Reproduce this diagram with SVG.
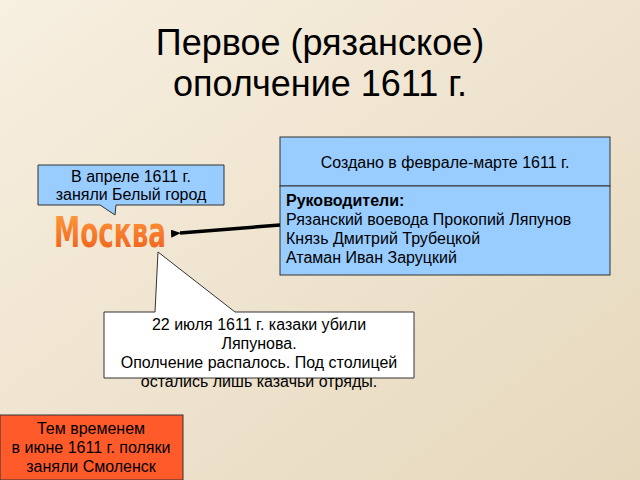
<svg xmlns="http://www.w3.org/2000/svg" width="640" height="480" viewBox="0 0 640 480">
<defs>
<linearGradient id="bg" x1="0" y1="0" x2="1" y2="1"><stop offset="0" stop-color="#f7efe0"/><stop offset="1" stop-color="#e6d8bd"/></linearGradient>
<linearGradient id="mo" x1="0" y1="0" x2="0" y2="1"><stop offset="0" stop-color="#ffa040"/><stop offset="1" stop-color="#ee5a18"/></linearGradient>
<marker id="ah" markerWidth="10" markerHeight="8" refX="1" refY="4" orient="auto" markerUnits="userSpaceOnUse"><path d="M10,0 L0,4 L10,8 Z" fill="#000"/></marker>
<style>
.b{fill:#99ccff;stroke:#333;stroke-width:1}
.t{font-family:"Liberation Sans",Arial,sans-serif;font-size:16px;fill:#000}
</style>
</defs>
<rect width="640" height="480" fill="url(#bg)"/>
<text x="320" y="55" text-anchor="middle" font-family="Liberation Sans,Arial,sans-serif" font-size="36">Первое (рязанское)</text>
<text x="320" y="96" text-anchor="middle" font-family="Liberation Sans,Arial,sans-serif" font-size="36">ополчение 1611 г.</text>
<g id="created"><rect class="b" x="280" y="137" width="330" height="49"/><text class="t" x="445" y="168" text-anchor="middle">Создано в феврале-марте 1611 г.</text></g>
<g id="leaders"><rect class="b" x="280" y="186" width="330" height="89"/>
<text class="t" x="286" y="206" font-weight="bold">Руководители:</text>
<text class="t" x="286" y="225">Рязанский воевода Прокопий Ляпунов</text>
<text class="t" x="286" y="244">Князь Дмитрий Трубецкой</text>
<text class="t" x="286" y="263">Атаман Иван Заруцкий</text></g>
<g id="april"><path class="b" d="M38,165 H224 V205 H116 L115,215 L100,205 H38 Z"/>
<text class="t" x="131" y="182" text-anchor="middle">В апреле 1611 г.</text>
<text class="t" x="131" y="200" text-anchor="middle">заняли Белый город</text></g>
<g id="moscow"><text x="110" y="247" text-anchor="middle" font-family="DejaVu Sans Condensed,DejaVu Sans,sans-serif" font-weight="600" font-size="42" textLength="112" lengthAdjust="spacingAndGlyphs" fill="url(#mo)">Москва</text></g>
<g id="connectors"><line x1="280" y1="225" x2="180" y2="233" stroke="#000" stroke-width="3.5" marker-end="url(#ah)"/></g>
<g id="july"><path d="M104,312 H155 L158,252 L235,312 H414 V378 H104 Z" fill="#fff" stroke="#333"/>
<text class="t" x="259" y="330" text-anchor="middle">22 июля 1611 г. казаки убили</text>
<text class="t" x="259" y="349" text-anchor="middle">Ляпунова.</text>
<text class="t" x="259" y="368" text-anchor="middle">Ополчение распалось. Под столицей</text>
<text class="t" x="259" y="387" text-anchor="middle">остались лишь казачьи отряды.</text></g>
<g id="smolensk"><rect x="0" y="415" width="183" height="65" fill="#ff5a2a" stroke="#333"/>
<text class="t" x="91" y="434" text-anchor="middle">Тем временем</text>
<text class="t" x="91" y="453" text-anchor="middle">в июне 1611 г. поляки</text>
<text class="t" x="91" y="472" text-anchor="middle">заняли Смоленск</text></g>
</svg>
